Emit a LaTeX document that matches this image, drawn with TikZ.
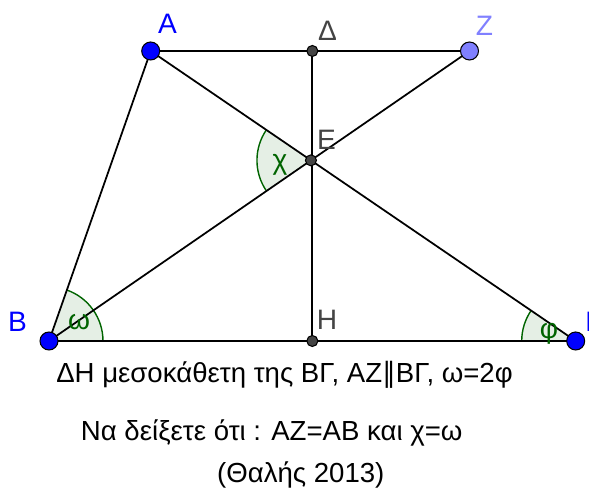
\documentclass[tikz,border=0pt]{standalone}
\usepackage{fontspec}
\setmainfont{Liberation Sans}
\newfontfamily\symfont{DejaVu Sans}
\usetikzlibrary{calc}
\definecolor{ptblue}{RGB}{0,0,255}
\definecolor{ptlight}{RGB}{128,128,255}
\definecolor{ptgray}{RGB}{68,68,68}
\definecolor{anggreen}{RGB}{0,100,0}
\definecolor{angfillc}{RGB}{229,239,229}
\tikzset{
  seg/.style={draw, line width=1pt},
  bigpt/.style={draw, circle, line width=0.6pt, inner sep=0pt, minimum size=0.36cm},
  smallpt/.style={draw, circle, line width=0.6pt, fill=ptgray, inner sep=0pt, minimum size=0.22cm},
  lbl/.style={inner sep=0pt, font=\fontsize{16}{19}\selectfont},
  anglbl/.style={lbl, text=anggreen},
  angarc/.style={draw=anggreen, line width=0.8pt},
  txt/.style={inner sep=0pt, font=\fontsize{15.7}{19}\selectfont}
}

\begin{document}
\begin{tikzpicture}[x=0.02cm, y=0.02cm]
\useasboundingbox (0,0) rectangle (589,496);
\coordinate (A) at (150.7,445);
\coordinate (Z) at (469.5,445);
\coordinate (B) at (49,155);
\coordinate (G) at (575.7,155);
\coordinate (H) at ($(B)!0.5!(G)$);
\coordinate (D) at (H |- A);
\coordinate (E) at (intersection of A--G and Z--B);
% angles
\fill[angfillc] (B) -- ++(0:1.08cm) arc (0:70.65:1.08cm) -- cycle;
\fill[angfillc] (G) -- ++(145.6:1.08cm) arc (145.6:180:1.08cm) -- cycle;
\fill[angfillc] (E) -- ++(145.6:1.08cm) arc (145.6:214.5:1.08cm) -- cycle;
\draw[angarc] ($(B)+(0:1.08cm)$) arc (0:70.65:1.08cm);
\draw[angarc] ($(G)+(145.6:1.08cm)$) arc (145.6:180:1.08cm);
\draw[angarc] ($(E)+(145.6:1.08cm)$) arc (145.6:214.5:1.08cm);
% segments
\draw[seg] (A) -- (Z);
\draw[seg] (A) -- (B);
\draw[seg] (B) -- (G);
\draw[seg] (A) -- (G);
\draw[seg] (Z) -- (B);
\draw[seg] (D) -- (H);
% points
\node[bigpt, fill=ptblue] (pA) at (A) {};
\node[bigpt, fill=ptblue] (pB) at (B) {};
\node[bigpt, fill=ptblue] (pG) at (G) {};
\node[bigpt, fill=ptlight] (pZ) at (Z) {};
\node[smallpt] (pD) at (D) {};
\node[smallpt] (pE) at (E) {};
\node[smallpt] (pH) at (H) {};
% labels
\node[lbl, text=ptblue] (lA) at (167.5,472) {Α};
\node[lbl, text=ptblue] (lB) at (17.5,174.3) {Β};
\node[lbl, text=ptblue] (lG) at (593,174) {Γ};
\node[lbl, text=ptlight] (lZ) at (484.5,470) {Ζ};
\node[lbl, text=ptgray] (lD) at (327.5,465) {Δ};
\node[lbl, text=ptgray] (lE) at (326.5,356) {Ε};
\node[lbl, text=ptgray] (lH) at (327,176) {Η};
\node[anglbl] (lw) at (79,174) {ω};
\node[anglbl] (lx) at (280,331) {χ};
\node[anglbl] (lf) at (549,162) {φ};
% text
\node[txt] (t1) at (284.5,121) {ΔΗ μεσοκάθετη της ΒΓ, ΑΖ{\symfont ∥}ΒΓ, ω=2φ};
\node[txt] (t2) at (271.7,63) {Να δείξετε ότι : ΑΖ=ΑΒ και χ=ω};
\node[txt] (t3) at (300.8,21) {(Θαλής 2013)};
\end{tikzpicture}
\end{document}
